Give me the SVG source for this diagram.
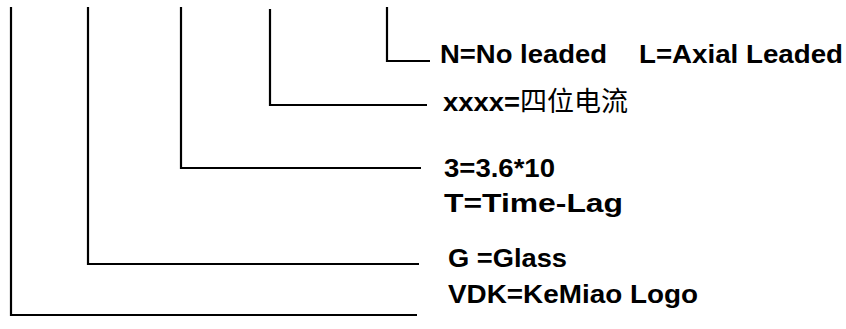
<svg xmlns="http://www.w3.org/2000/svg" width="846" height="329" viewBox="0 0 846 329">
<style>
.c{fill:none;stroke:#000;stroke-width:2.2;stroke-linecap:butt;stroke-linejoin:miter}
.t{font-family:"Liberation Sans",Arial,"Noto Sans CJK SC",sans-serif;font-weight:bold;font-size:26px;fill:#000}
.cjk{font-family:"Noto Sans CJK SC","Liberation Sans",sans-serif;font-weight:normal;font-size:27px}
</style>
<rect width="846" height="329" fill="#fff"/>
<g id="connectors">
<polyline class="c" points="11,7 11,315 417,315"/>
<polyline class="c" points="88,7 88,264 419,264"/>
<polyline class="c" points="181,7 181,168 421,168"/>
<polyline class="c" points="270,9 270,105 427,105"/>
<polyline class="c" points="387,7 387,61 430,61"/>
</g>
<g id="node-leaded"><text class="t" x="440" y="63" textLength="167" lengthAdjust="spacingAndGlyphs">N=No leaded</text><text class="t" x="639" y="63" textLength="204" lengthAdjust="spacingAndGlyphs">L=Axial Leaded</text></g>
<g id="node-current"><text class="t" x="443" y="111"><tspan textLength="77" lengthAdjust="spacingAndGlyphs">xxxx=</tspan><tspan class="cjk">四位电流</tspan></text></g>
<g id="node-rating"><text class="t" x="444" y="177" textLength="111" lengthAdjust="spacingAndGlyphs">3=3.6*10</text></g>
<g id="node-timelag"><text class="t" x="444" y="212" textLength="179" lengthAdjust="spacingAndGlyphs">T=Time-Lag</text></g>
<g id="node-glass"><text class="t" x="448" y="267" textLength="119" lengthAdjust="spacingAndGlyphs">G =Glass</text></g>
<g id="node-logo"><text class="t" x="448" y="303" textLength="250" lengthAdjust="spacingAndGlyphs">VDK=KeMiao Logo</text></g>
</svg>
